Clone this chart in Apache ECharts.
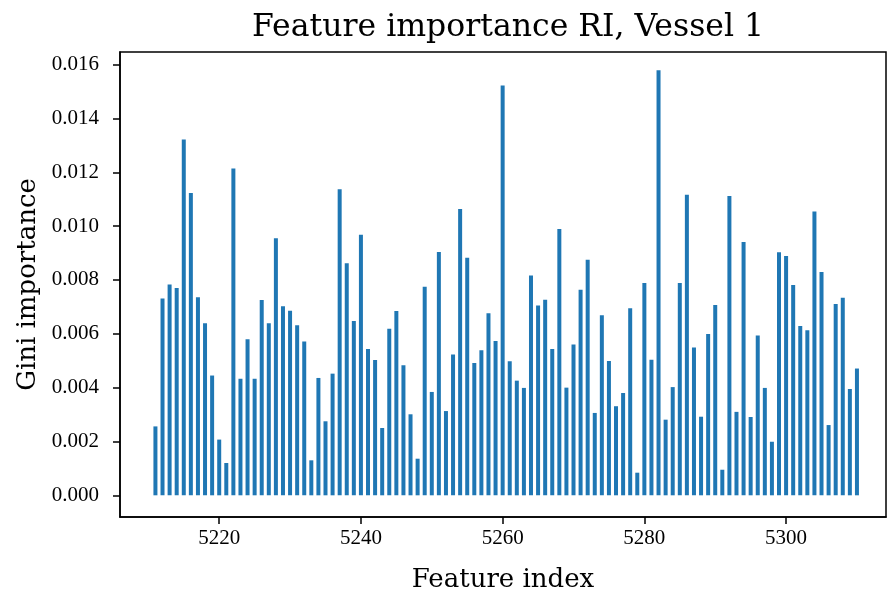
<!DOCTYPE html>
<html>
<head>
<meta charset="utf-8">
<script src="https://cdn.jsdelivr.net/npm/echarts@6/dist/echarts.min.js"></script>
<style>
  html, body { margin: 0; padding: 0; background: #fff; }
  #chart { width: 887px; height: 594px; }
</style>
</head>
<body>
<div id="chart"></div>
<script>
// Feature indices 5211..5310
const featureIndex = [
  5211, 5212, 5213, 5214, 5215, 5216, 5217, 5218, 5219, 5220,
  5221, 5222, 5223, 5224, 5225, 5226, 5227, 5228, 5229, 5230,
  5231, 5232, 5233, 5234, 5235, 5236, 5237, 5238, 5239, 5240,
  5241, 5242, 5243, 5244, 5245, 5246, 5247, 5248, 5249, 5250,
  5251, 5252, 5253, 5254, 5255, 5256, 5257, 5258, 5259, 5260,
  5261, 5262, 5263, 5264, 5265, 5266, 5267, 5268, 5269, 5270,
  5271, 5272, 5273, 5274, 5275, 5276, 5277, 5278, 5279, 5280,
  5281, 5282, 5283, 5284, 5285, 5286, 5287, 5288, 5289, 5290,
  5291, 5292, 5293, 5294, 5295, 5296, 5297, 5298, 5299, 5300,
  5301, 5302, 5303, 5304, 5305, 5306, 5307, 5308, 5309, 5310
];

// Gini importance per feature
const giniImportance = [
  0.00256, 0.00731, 0.00783, 0.00770, 0.01322, 0.01123, 0.00736, 0.00639, 0.00445, 0.00207,
  0.00120, 0.01214, 0.00433, 0.00580, 0.00433, 0.00726, 0.00639, 0.00955, 0.00702, 0.00686,
  0.00632, 0.00571, 0.00130, 0.00436, 0.00275, 0.00452, 0.01137, 0.00862, 0.00648, 0.00968,
  0.00544, 0.00503, 0.00250, 0.00619, 0.00685, 0.00483, 0.00301, 0.00136, 0.00775, 0.00384,
  0.00904, 0.00313, 0.00523, 0.01064, 0.00883, 0.00492, 0.00539, 0.00676, 0.00573, 0.01523,
  0.00498, 0.00426, 0.00399, 0.00817, 0.00705, 0.00727, 0.00544, 0.00989, 0.00400, 0.00560,
  0.00764, 0.00875, 0.00306, 0.00669, 0.00499, 0.00331, 0.00380, 0.00695, 0.00084, 0.00789,
  0.00504, 0.01579, 0.00281, 0.00402, 0.00789, 0.01117, 0.00549, 0.00292, 0.00599, 0.00707,
  0.00095, 0.01112, 0.00310, 0.00941, 0.00291, 0.00594, 0.00399, 0.00199, 0.00903, 0.00889,
  0.00781, 0.00629, 0.00613, 0.01054, 0.00830, 0.00261, 0.00711, 0.00734, 0.00395, 0.00471
];

const xTicks = [5220, 5240, 5260, 5280, 5300];
const yTicks = [0, 0.002, 0.004, 0.006, 0.008, 0.010, 0.012, 0.014, 0.016];

const titleText = 'Feature importance RI, Vessel 1';
const xName = 'Feature index';
const yName = 'Gini importance';

const serif = '"DejaVu Serif", serif';
const tickFont = '"Liberation Serif", "DejaVu Serif", serif';

const chart = echarts.init(document.getElementById('chart'), null, { renderer: 'canvas' });

chart.setOption({
  animation: false,
  backgroundColor: '#ffffff',
  title: {
    text: titleText,
    left: 503,
    top: 7,
    textAlign: 'center',
    textStyle: { fontFamily: serif, fontSize: 31.5, fontWeight: 'normal', color: '#000' }
  },
  grid: {
    left: 120, right: 1, top: 52, bottom: 77,
    outerBoundsMode: 'none',
    containLabel: false,
    show: true, borderColor: '#000', borderWidth: 1.5, backgroundColor: 'transparent'
  },
  xAxis: {
    type: 'value',
    min: 5206.0,
    max: 5314.1,
    name: xName,
    nameLocation: 'middle',
    nameGap: 50,
    nameTextStyle: { fontFamily: serif, fontSize: 26, color: '#000' },
    splitLine: { show: false },
    axisLine: { show: true, onZero: false, lineStyle: { color: '#000', width: 1.5 } },
    axisTick: { show: true, length: 7, inside: false, customValues: xTicks, lineStyle: { color: '#000', width: 1.5 } },
    axisLabel: {
      customValues: xTicks, margin: 11,
      fontFamily: tickFont, fontSize: 21, color: '#000',
      formatter: v => String(Math.round(v))
    }
  },
  yAxis: {
    type: 'value',
    min: -0.000806,
    max: 0.01647,
    name: yName,
    nameLocation: 'middle',
    nameGap: 77,
    nameTextStyle: { fontFamily: serif, fontSize: 26, color: '#000' },
    splitLine: { show: false },
    axisLine: { show: true, onZero: false, lineStyle: { color: '#000', width: 1.5 } },
    axisTick: { show: true, length: 7, inside: false, customValues: yTicks, lineStyle: { color: '#000', width: 1.5 } },
    axisLabel: {
      customValues: yTicks, margin: 21,
      fontFamily: tickFont, fontSize: 21, color: '#000',
      formatter: v => v.toFixed(3)
    }
  },
  series: [{
    type: 'bar',
    data: featureIndex.map((x, i) => [x, giniImportance[i]]),
    barWidth: 4,
    itemStyle: { color: '#1f77b4' },
    silent: true
  }]
});
</script>
</body>
</html>
